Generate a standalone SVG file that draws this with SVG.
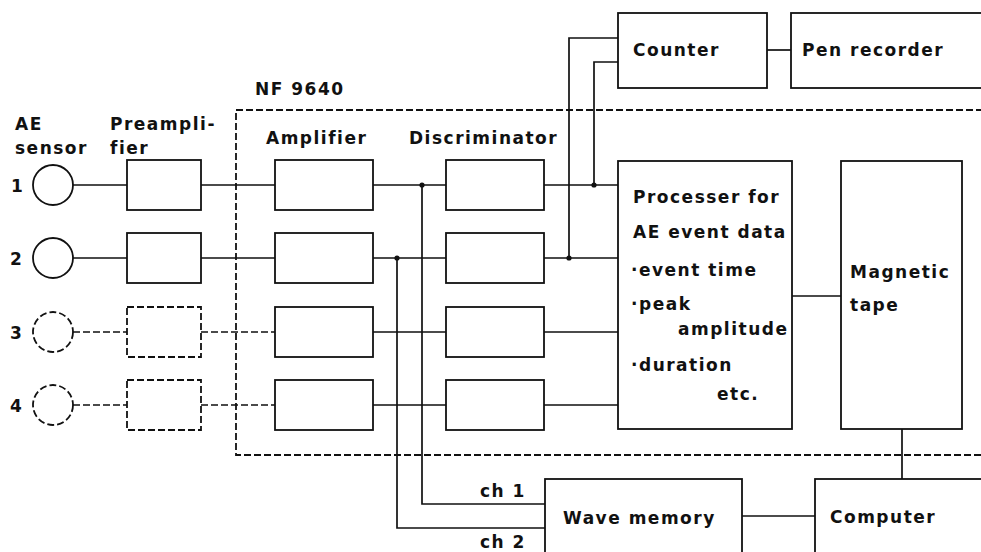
<svg xmlns="http://www.w3.org/2000/svg" width="981" height="552" viewBox="0 0 981 552">
  <style>
    .box { fill: none; stroke: #111; stroke-width: 1.8; }
    .dbox { fill: none; stroke: #111; stroke-width: 1.8; stroke-dasharray: 7 3; }
    .ln { fill: none; stroke: #111; stroke-width: 1.7; }
    .dln { fill: none; stroke: #111; stroke-width: 1.7; stroke-dasharray: 7 3; }
    .dot { fill: #111; }
    text { font-family: "DejaVu Sans", "Liberation Sans", sans-serif; font-weight: bold; font-size: 17px; letter-spacing: 1.5px; fill: #111; }
  </style>
  <rect width="981" height="552" fill="#fff"/>

  <!-- NF 9640 enclosure -->
  <g id="nf9640">
    <rect x="236" y="110" width="760" height="345" class="dbox"/>
    <text x="255" y="95">NF 9640</text>
  </g>

  <!-- column headings -->
  <g id="headings">
    <text x="15" y="130">AE</text>
    <text x="15" y="154">sensor</text>
    <text x="110" y="130">Preampli-</text>
    <text x="110" y="154">fier</text>
    <text x="266" y="144">Amplifier</text>
    <text x="409" y="144">Discriminator</text>
  </g>

  <!-- sensors -->
  <g id="sensor1"><text x="11" y="192">1</text><circle cx="53" cy="185" r="20" class="box"/></g>
  <g id="sensor2"><text x="10" y="265">2</text><circle cx="53" cy="258" r="20" class="box"/></g>
  <g id="sensor3"><text x="10" y="339">3</text><circle cx="53" cy="332" r="20" class="dbox" stroke-dasharray="6 3"/></g>
  <g id="sensor4"><text x="10" y="412">4</text><circle cx="53" cy="405" r="20" class="dbox" stroke-dasharray="6 3"/></g>

  <!-- preamplifiers -->
  <g id="preamp1"><rect x="127" y="160" width="74" height="50" class="box"/></g>
  <g id="preamp2"><rect x="127" y="233" width="74" height="50" class="box"/></g>
  <g id="preamp3"><rect x="127" y="307" width="74" height="50" class="dbox"/></g>
  <g id="preamp4"><rect x="127" y="380" width="74" height="50" class="dbox"/></g>

  <!-- amplifiers -->
  <g id="amp1"><rect x="275" y="160" width="98" height="50" class="box"/></g>
  <g id="amp2"><rect x="275" y="233" width="98" height="50" class="box"/></g>
  <g id="amp3"><rect x="275" y="307" width="98" height="50" class="box"/></g>
  <g id="amp4"><rect x="275" y="380" width="98" height="50" class="box"/></g>

  <!-- discriminators -->
  <g id="disc1"><rect x="446" y="160" width="98" height="50" class="box"/></g>
  <g id="disc2"><rect x="446" y="233" width="98" height="50" class="box"/></g>
  <g id="disc3"><rect x="446" y="307" width="98" height="50" class="box"/></g>
  <g id="disc4"><rect x="446" y="380" width="98" height="50" class="box"/></g>

  <!-- counter and pen recorder -->
  <g id="counter">
    <rect x="618" y="13" width="149" height="75" class="box"/>
    <text x="633" y="56">Counter</text>
  </g>
  <g id="penrecorder">
    <rect x="791" y="13" width="210" height="75" class="box"/>
    <text x="802" y="56">Pen recorder</text>
  </g>

  <!-- processor -->
  <g id="processor">
    <rect x="618" y="161" width="174" height="268" class="box"/>
    <text x="633" y="203">Processer for</text>
    <text x="633" y="238">AE event data</text>
    <text x="631" y="276">·event time</text>
    <text x="631" y="310">·peak</text>
    <text x="678" y="335">amplitude</text>
    <text x="631" y="371">·duration</text>
    <text x="717" y="400">etc.</text>
  </g>

  <!-- magnetic tape -->
  <g id="tape">
    <rect x="841" y="161" width="121" height="268" class="box"/>
    <text x="850" y="278">Magnetic</text>
    <text x="850" y="311">tape</text>
  </g>

  <!-- wave memory -->
  <g id="wavememory">
    <rect x="545" y="479" width="197" height="90" class="box"/>
    <text x="563" y="524">Wave memory</text>
  </g>

  <!-- computer -->
  <g id="computer">
    <rect x="815" y="479" width="190" height="90" class="box"/>
    <text x="830" y="523">Computer</text>
  </g>

  <!-- channel labels -->
  <g id="channels">
    <text x="480" y="497">ch 1</text>
    <text x="480" y="548">ch 2</text>
  </g>

  <!-- connectors -->
  <g id="connectors">
    <!-- sensor to preamp -->
    <path d="M73 185H127M73 258H127" class="ln"/>
    <path d="M73 332H127M73 405H127" class="dln"/>
    <!-- preamp to amp -->
    <path d="M201 185H275M201 258H275" class="ln"/>
    <path d="M201 332H275M201 405H275" class="dln"/>
    <!-- amp to discriminator -->
    <path d="M373 185H446M373 258H446M373 332H446M373 405H446" class="ln"/>
    <!-- discriminator to processor -->
    <path d="M544 185H618M544 258H618M544 332H618M544 405H618" class="ln"/>
    <!-- taps to counter -->
    <path d="M594 185V62H618M569 258V38H618" class="ln"/>
    <!-- counter to pen recorder -->
    <path d="M767 50H791" class="ln"/>
    <!-- processor to tape, tape to computer -->
    <path d="M792 296H841M902 429V479" class="ln"/>
    <!-- wave memory taps -->
    <path d="M422 185V504H545M397 258V528H545" class="ln"/>
    <!-- wave memory to computer -->
    <path d="M742 516H815" class="ln"/>
    <circle cx="422" cy="185" r="2.6" class="dot"/>
    <circle cx="397" cy="258" r="2.6" class="dot"/>
    <circle cx="594" cy="185" r="2.6" class="dot"/>
    <circle cx="569" cy="258" r="2.6" class="dot"/>
  </g>
</svg>
